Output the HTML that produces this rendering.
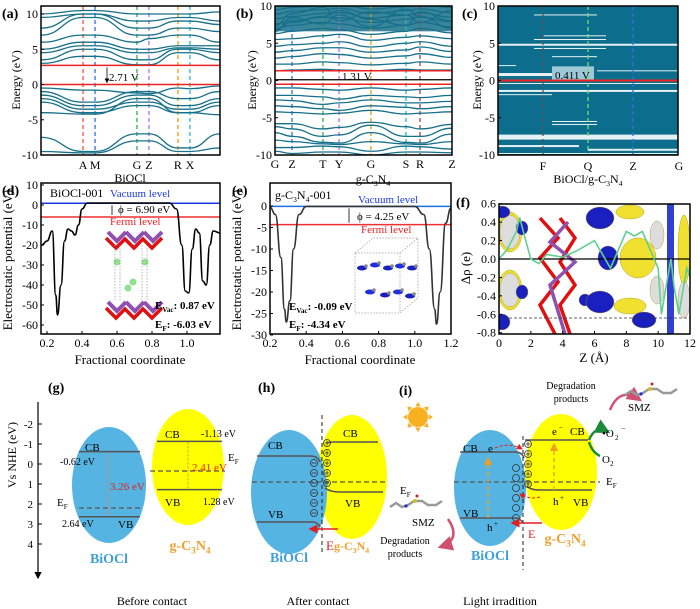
<!DOCTYPE html>
<html><head><meta charset="utf-8"><style>
body{margin:0;background:#fff}
svg{display:block;font-family:"Liberation Serif",serif}
</style></head><body>
<svg id="fig" width="700" height="609" viewBox="0 0 700 609">
<defs>
<marker id="arrR" markerWidth="6" markerHeight="6" refX="5" refY="3" orient="auto"><path d="M0,0L6,3L0,6z" fill="#e02020"/></marker>
<marker id="arrO" markerWidth="6" markerHeight="6" refX="5" refY="3" orient="auto"><path d="M0,0L6,3L0,6z" fill="#f0a020"/></marker>
<marker id="arrK" markerWidth="6" markerHeight="6" refX="5" refY="3" orient="auto"><path d="M0,0L6,3L0,6z" fill="#000"/></marker>
<marker id="arrG" markerWidth="6" markerHeight="6" refX="5" refY="3" orient="auto"><path d="M0,0L6,3L0,6z" fill="#1a8a3a"/></marker>
<marker id="arrP" markerWidth="6" markerHeight="6" refX="5" refY="3" orient="auto"><path d="M0,0L6,3L0,6z" fill="#d05070"/></marker>
<clipPath id="clipA"><rect x="41" y="6" width="179" height="149"/></clipPath>
<clipPath id="clipB"><rect x="275" y="6" width="177" height="149"/></clipPath>
<clipPath id="clipD"><rect x="41" y="183" width="179" height="151"/></clipPath>
<clipPath id="clipE"><rect x="270" y="183" width="181" height="151"/></clipPath>
<clipPath id="clipF"><rect x="499" y="204" width="191" height="130"/></clipPath>
</defs>
<g id="root"></g>
</svg>
<script>
// ---------- DATA ----------
const bandKA = [0, 0.235, 0.302, 0.536, 0.603, 0.765, 0.832, 1];
const bandLabelsA = ["A","M","G","Z","R","X"];
const bandsA = [
 [-0.5,-0.8,-0.8,-1.2,-1.3,-0.5,-0.6,-0.2],[-1,-2.5,-2.5,-1,-1,-2,-2,-1],[-1.5,-3,-3,-1.5,-1.5,-3,-3,-2],
 [-2,-3.5,-3.5,-2.5,-2.5,-3.5,-3.5,-2.5],[-2.5,-4,-4,-3,-3,-4,-4,-3],[-4,-4.2,-4.2,-2,-2,-4,-4,-4.3],
 [-7.5,-9.5,-9.5,-7,-7,-9,-9,-7],[-9.5,-9.7,-9.7,-8,-8,-9.5,-9.5,-9],
 [3,4,4,2.8,2.8,4.5,4.5,3.5],[3.5,5,5,3.5,3.5,5,5,4.5],[4.5,5.5,5.5,4.5,4.5,5.2,5.2,5],[5,6,6,5,5,5.5,5.5,5.5],
 [6,7,7,6,6.5,7,7,6],[7,9.5,9.5,7,7,8,8,7.5],[8,10,10,8,8,9,9,8.5],[9.5,10,10,9,9,9.5,9.5,9],[10,10.5,10.5,10,10,10,10,10.3]
];
const gapA = [0, 2.71];
const bandKB = [0, 0.096, 0.271, 0.362, 0.542, 0.74, 0.819, 1];
const bandLabelsB = ["G","Z","T","Y","G","S","R","Z"];
const bandsB = [
 [-1,-1,-1.2,-1.3,-1,-1.3,-1.2,-1],[-2,-2,-2.2,-2.5,-2,-2.2,-2.3,-2],[-2.6,-2.7,-3.2,-3,-2.6,-3,-3,-2.8],
 [-3.4,-3.5,-3.8,-4,-3.4,-3.6,-3.8,-3.5],[-4.2,-4.3,-4.5,-4.4,-4,-4.5,-4.4,-4.2],[-5.8,-5.8,-6.5,-6.3,-5.6,-6.2,-6.5,-5.9],
 [-6.2,-6.5,-7.5,-7.3,-6,-7.5,-7.5,-6.4],[-7,-7.5,-8.3,-8.4,-7,-8.3,-8.4,-7.2],[-8,-8.2,-8.5,-8.6,-8.2,-8.5,-8.6,-8.2],
 [-9,-9,-8.8,-8.9,-9.5,-8.8,-8.9,-9.2],[-9.5,-9.8,-9.6,-9.6,-10,-9.6,-9.6,-9.7],
 [1.3,1.4,1.5,1.4,1.3,1.5,1.4,1.4],[2.2,2.2,2.5,2.4,2.1,2.3,2.5,2.2],[3,3.2,3.6,3.5,3,3.3,3.6,3.1],
 [3.8,4,4.4,4.4,3.8,4.1,4.5,3.9],[4.6,4.8,5,5.2,4.5,5,5.2,4.6],[5.5,5.6,6,6.2,5.4,5.8,6,5.6],
 [6.3,6.6,7,6.8,6.2,6.6,7,6.4],[7,7.4,7.8,7.6,7,7.4,7.8,7.2],[7.6,8,8.5,8.4,7.8,8.2,8.5,7.9],
 [8.3,8.6,9,9.1,8.4,8.8,9.1,8.5],[8.9,9.3,9.5,9.7,9,9.4,9.6,9.1],[9.5,9.8,10,10.2,9.6,9.9,10.2,9.8],
 [6.8,7.8,8.6,9.4,8.2,7.4,9.2,8],[7.4,9,9.8,8,9.2,8.8,7.8,9.4],[6.6,8.4,7.6,8.8,7.2,9.6,8.6,7]
];
const gapB = [-0.5, 1.31];
const gapsC = [[8.8,1,0.2,0.55],[6,1,0.25,0.6],[5.5,1,0.2,0.6],[4.8,2,0,1],[4.3,1,0.2,0.6],[3.2,1,0.3,0.55],
 [2.0,1,0,0.1],[1.3,1,0.55,1],[0.8,3,0,0.5],[-0.4,1,0,1],[-1.4,2,0,1],[-1.9,1,0,0.3],[-5.5,1,0.3,0.55],[-5.9,1,0.3,0.55],
 [-7.6,5,0,1],[-8.8,2,0,0.45],[-9.3,2,0.5,1],[-9.8,1,0,1]];
const potDX = [0.17,0.2,0.23,0.25,0.26,0.28,0.3,0.32,0.34,0.36,0.38,0.4,0.43,0.5,0.9,0.94,0.97,0.99,1.01,1.03,1.05,1.07,1.09,1.11,1.13,1.15,1.19];
const potDY = [-20,-18,-13,-45,-55,-40,-18,-12,-13,-15,-10,-2,1,1,1,-2,-20,-43,-44,-22,-12,-14,-38,-40,-20,-13,-14];
const potDLevels = [0.87, -6.03];
const potEX = [0.2,0.23,0.26,0.28,0.29,0.31,0.33,0.36,0.4,1.0,1.05,1.08,1.11,1.12,1.14,1.17,1.2];
const potEY = [-0.3,-2,-12,-24,-27,-22,-10,-2,-0.1,-0.1,-2,-10,-24,-27.5,-20,-4,-0.5];
const potELevels = [-0.09, -4.34];
const cdZ = [0,0.5,1.1,1.3,1.6,2,2.5,3,4,5,6,6.5,7,7.5,8,8.5,9,9.5,10,10.2,10.5,10.8,11,11.3,11.5,11.8,12];
const cdRho = [0,0.1,0.3,0.45,0.25,0,-0.05,0.05,0.02,0.1,0.2,0.05,-0.1,0.1,0.3,0.25,0.3,0.1,-0.1,-0.6,-0.3,0,-0.3,-0.6,-0.4,-0.1,-0.2];
const nheTicks = [-2,-1,0,1,2,3,4];
const levelsBiOCl = [-0.62, 2.64, 2.2];
const levelsCN = [-1.13, 1.28, 0.35];

// ---------- HELPERS ----------
const NS="http://www.w3.org/2000/svg";
const root=document.getElementById('root');
function el(tag,attrs,parent,txt){const e=document.createElementNS(NS,tag);for(const k in attrs)e.setAttribute(k,attrs[k]);if(txt!==undefined)e.textContent=txt;(parent||root).appendChild(e);return e;}
function T(x,y,s,size,opt){opt=opt||{};const e=el('text',{x:x,y:y,'font-size':size,fill:opt.fill||'#000','text-anchor':opt.anchor||'start','font-weight':opt.bold?'bold':'normal'},opt.parent,s);if(opt.rot)e.setAttribute('transform','rotate(-90 '+x+' '+y+')');

return e;}
// text with subscripts: parts = [[text, isSub], ...]
function S(x,y,parts,size,opt){opt=opt||{};const e=el('text',{x:x,y:y,'font-size':size,fill:opt.fill||'#000','text-anchor':opt.anchor||'start','font-weight':opt.bold?'bold':'normal'});


let sub=false;parts.forEach(p=>{const t=el('tspan',{},e,p[0]);if(p[1]&&!sub){t.setAttribute('dy',size*0.25);t.setAttribute('font-size',size*0.65);sub=true;}else if(p[1]){t.setAttribute('font-size',size*0.65);}else if(sub){t.setAttribute('dy',-size*0.25);sub=false;}});return e;}
const GCN=[['g-C'],['3',1],['N'],['4',1]];
function smooth(pts){let d='M'+pts[0][0]+','+pts[0][1];for(let i=1;i<pts.length;i++){const p0=pts[i-1],p1=pts[i];const mx=(p0[0]+p1[0])/2;d+=' C'+mx+','+p0[1]+' '+mx+','+p1[1]+' '+p1[0]+','+p1[1];}return d;}
function lineP(pts){return 'M'+pts.map(p=>p[0].toFixed(1)+','+p[1].toFixed(1)).join(' L');}
function frame(x,y,w,h,name){const r=el('rect',{x:x,y:y,width:w,height:h,fill:'none',stroke:'#000','stroke-width':1.5});

}
function yTicks(x0,vals,sy,fmt,size){vals.forEach(v=>{const y=sy(v);el('line',{x1:x0,y1:y,x2:x0+3,y2:y,stroke:'#000'});T(x0-3,y+4,fmt(v),size||11,{anchor:'end',name:'y-tick-label'});});}

// ---------- (a) ----------
(function(){
 const x0=41,w=179,sx=k=>x0+k*w,sy=e=>84.5-7.05*e;
 const g=el('g',{'clip-path':'url(#clipA)'});
 const cols=['#ee5050','#3070e0','#30b050','#b070e0','#e0a010','#20c0c0'];
 bandLabelsA.forEach((l,i)=>{const x=sx(bandKA[i+1]);el('line',{x1:x,y1:6,x2:x,y2:155,stroke:cols[i],'stroke-width':1.3,'stroke-dasharray':'4,3'},g);T(x,169,l,12,{anchor:'middle',name:'k-point-label'});});
 bandsA.forEach(b=>{const p=el('path',{d:smooth(b.map((e,i)=>[sx(bandKA[i]),sy(e)])),fill:'none',stroke:'#16708a','stroke-width':1.3},g);});
 gapA.forEach(e=>el('line',{x1:41,x2:220,y1:sy(e),y2:sy(e),stroke:'#ee2020','stroke-width':1.5},g));
 el('line',{x1:107,x2:107,y1:sy(gapA[1])+2,y2:sy(gapA[0])-2,stroke:'#000','stroke-width':0.8,'marker-end':'url(#arrK)'});
 T(109,81,'2.71 V',11,{name:'band-gap-label'});
 frame(41,6,179,149,'plot-frame-a');
 yTicks(41,[10,5,0,-5,-10],sy,v=>v,12);
 T(20,80,'Energy (eV)',12,{rot:true,anchor:'middle',name:'y-axis-title'});
 T(130,182,'BiOCl',12,{anchor:'middle',name:'x-axis-title'});
 T(2,18,'(a)',14,{bold:true,name:'panel-label'});
})();
// ---------- (b) ----------
(function(){
 const x0=275,w=177,sx=k=>x0+k*w,sy=e=>80.5-7.45*e;
 const g=el('g',{'clip-path':'url(#clipB)'});
 el('rect',{x:275,y:6,width:177,height:sy(6.6)-6,fill:'#16708a',opacity:0.85},g);
 const cols=['#ee5050','#3070e0','#30b050','#b070e0','#e0a010','#20c0c0','#a04040','#000'];
 bandLabelsB.forEach((l,i)=>{const x=sx(bandKB[i]);if(i>0&&i<7)el('line',{x1:x,y1:6,x2:x,y2:155,stroke:cols[i],'stroke-width':1.3,'stroke-dasharray':'4,3'},g);T(x,168,l,12,{anchor:'middle',name:'k-point-label'});});
 bandsB.forEach(b=>{const p=el('path',{d:smooth(b.map((e,i)=>[sx(bandKB[i]),sy(e)])),fill:'none',stroke:'#16708a','stroke-width':1.3},g);});
 el('line',{x1:275,x2:452,y1:sy(0.1),y2:sy(0.1),stroke:'#000','stroke-width':1.3},g);
 el('line',{x1:275,x2:452,y1:sy(gapB[0]),y2:sy(gapB[0]),stroke:'#ee2020','stroke-width':1.5},g);
 el('line',{x1:275,x2:452,y1:sy(gapB[1]),y2:sy(gapB[1]),stroke:'#ee2020','stroke-width':1.5},g);
 T(342,80,'1.31 V',11,{name:'band-gap-label'});
 frame(275,6,177,149,'plot-frame-b');
 yTicks(275,[10,5,0,-5,-10],sy,v=>v,12);
 T(256,80,'Energy (eV)',12,{rot:true,anchor:'middle',name:'y-axis-title'});
 S(373,183,GCN,12,{anchor:'middle',name:'x-axis-title'});
 T(236,18,'(b)',14,{bold:true,name:'panel-label'});
})();
// ---------- (c) ----------
(function(){
 const x0=498,w=180,sy=e=>80.5-7.45*e;
 const g=el('g');
 el('rect',{x:x0,y:6,width:w,height:149,fill:'#0c6e8c'},g);
 gapsC.forEach(gp=>{const r=el('rect',{x:x0+gp[2]*w,y:sy(gp[0])-gp[1]/2,width:(gp[3]-gp[2])*w,height:gp[1],fill:'#fff',opacity:0.9},g);});
 el('rect',{x:552,y:sy(1.9),width:42,height:sy(0.1)-sy(1.9),fill:'#9cc8d8'},g);
 const ks=[[543,'F','#555'],[588,'Q','#70e070'],[633,'Z','#3070e0']];
 ks.forEach(k=>el('line',{x1:k[0],x2:k[0],y1:6,y2:155,stroke:k[2],'stroke-width':1.3,'stroke-dasharray':'4,3'},g));
 el('line',{x1:498,x2:678,y1:sy(0),y2:sy(0),stroke:'#ee2020','stroke-width':2},g);
 T(555,79,'0.411 V',11,{name:'band-gap-label'});
 frame(498,6,180,149,'plot-frame-c');
 yTicks(498,[10,5,0,-5,-10],sy,v=>v,12);
 [[543,'F'],[588,'Q'],[633,'Z'],[679,'G']].forEach(k=>T(k[0],170,k[1],12,{anchor:'middle',name:'k-point-label'}));
 T(481,80,'Energy (eV)',12,{rot:true,anchor:'middle',name:'y-axis-title'});
 S(588,183,[['BiOCl/g-C'],['3',1],['N'],['4',1]],12,{anchor:'middle',name:'x-axis-title'});
 T(462,18,'(c)',14,{bold:true,name:'panel-label'});
})();
// ---------- (d) ----------
(function(){
 const sx=f=>47+(f-0.2)*175,sy=v=>185+(10-v)*2;
 const g=el('g',{'clip-path':'url(#clipD)'});
 el('line',{x1:41,x2:220,y1:sy(potDLevels[0]),y2:sy(potDLevels[0]),stroke:'#1a3ae0','stroke-width':1.5},g);
 el('line',{x1:41,x2:220,y1:sy(potDLevels[1]),y2:sy(potDLevels[1]),stroke:'#ee3030','stroke-width':1.5},g);
 const p=el('path',{d:smooth(potDX.map((x,i)=>[sx(x),sy(potDY[i])])),fill:'none',stroke:'#000','stroke-width':1.6},g);
 
 const c=el('g',{},g);
 [232,302].forEach(y0=>{for(let i=0;i<3;i++){el('path',{d:'M'+(108+i*18)+','+y0+' l9,9 l9,-9',stroke:'#9050b0','stroke-width':4,fill:'none'},c);el('path',{d:'M'+(106+i*18)+','+(y0+6)+' l10,10 l10,-10',stroke:'#e01010','stroke-width':3.5,fill:'none'},c);}});
 [[117,262],[145,262],[133,282],[128,288]].forEach(q=>el('circle',{cx:q[0],cy:q[1],r:3.5,fill:'#90e090'},c));
 [115,120,142,147].forEach(x=>el('line',{x1:x,x2:x,y1:245,y2:300,stroke:'#888','stroke-dasharray':'1.5,1.5','stroke-width':0.6},c));
 frame(41,183,179,151,'plot-frame-d');
 yTicks(41,[10,0,-10,-20,-30,-40,-50,-60],sy,v=>v,12);
 [0.2,0.4,0.6,0.8,1.0].forEach(f=>{el('line',{x1:sx(f),x2:sx(f),y1:334,y2:331,stroke:'#000'});T(sx(f),347,f.toFixed(1),12,{anchor:'middle',name:'x-tick-label'});});
 T(130,364,'Fractional coordinate',13,{anchor:'middle',name:'x-axis-title'});
 T(12,260,'Electrostatic potential (eV)',13,{rot:true,anchor:'middle',name:'y-axis-title'});
 T(50,197,'BiOCl-001',12,{name:'surface-label'});T(110,197,'Vacuum level',11,{fill:'#1a3ae0',name:'vacuum-level-label'});
 T(110,225,'Fermi level',11,{fill:'#ee2020',name:'fermi-level-label'});
 el('line',{x1:112,x2:112,y1:sy(potDLevels[0])+2,y2:sy(potDLevels[1])-2,stroke:'#000','stroke-width':0.8});
 T(118,213,'\u03d5 = 6.90 eV',11,{name:'work-function-label'});
 S(155,309,[['E'],['Vac',1],[': 0.87 eV']],11,{bold:true,name:'evac-label'});
 S(155,328,[['E'],['F',1],[': -6.03 eV']],11,{bold:true,name:'ef-label'});
 T(2,195,'(d)',14,{bold:true,name:'panel-label'});
})();
// ---------- (e) ----------
(function(){
 const sx=f=>270+(f-0.2)*181,sy=v=>206-v*4.3;
 const g=el('g',{'clip-path':'url(#clipE)'});
 el('line',{x1:270,x2:451,y1:sy(potELevels[0]),y2:sy(potELevels[0]),stroke:'#1a70e0','stroke-width':1.5},g);
 el('line',{x1:270,x2:451,y1:sy(potELevels[1]),y2:sy(potELevels[1]),stroke:'#ee3030','stroke-width':1.5},g);
 const p=el('path',{d:smooth(potEX.map((x,i)=>[sx(x),sy(potEY[i])])),fill:'none',stroke:'#333','stroke-width':1.6},g);
 
 const c=el('g',{},g);
 el('path',{d:'M355,253 L400,253 L418,238 L418,298 L400,313 L355,313 Z M355,253 L373,238 L418,238 M400,253 L400,313',fill:'none',stroke:'#999','stroke-dasharray':'1.5,1.5','stroke-width':0.7},c);
 [[362,268],[375,265],[388,268],[400,266],[412,268],[370,292],[385,295],[398,292],[410,296]].forEach((q,i)=>{el('ellipse',{cx:q[0],cy:q[1],rx:5,ry:2.5,fill:i%2?'#2030e0':'#1a20c0'},c);el('circle',{cx:q[0]+4,cy:q[1]-2,r:1.8,fill:'#888'},c);});
 frame(270,183,181,151,'plot-frame-e');
 yTicks(270,[0,-5,-10,-15,-20,-25,-30],sy,v=>v,12);
 [0.2,0.4,0.6,0.8,1.0,1.2].forEach(f=>{el('line',{x1:sx(f),x2:sx(f),y1:334,y2:331,stroke:'#000'});T(sx(f),347,f.toFixed(1),12,{anchor:'middle',name:'x-tick-label'});});
 T(360,364,'Fractional coordinate',13,{anchor:'middle',name:'x-axis-title'});
 T(241,260,'Electrostatic potential (eV)',13,{rot:true,anchor:'middle',name:'y-axis-title'});
 S(275,199,[['g-C'],['3',1],['N'],['4',1],['-001']],12,{name:'surface-label'});
 T(358,203,'Vacuum level',11,{fill:'#1a3ae0',name:'vacuum-level-label'});
 T(361,233,'Fermi level',11,{fill:'#ee2020',name:'fermi-level-label'});
 el('line',{x1:349,x2:349,y1:sy(potELevels[0])+2,y2:sy(potELevels[1])-2,stroke:'#000','stroke-width':0.8});
 T(357,220,'\u03d5 = 4.25 eV',11,{name:'work-function-label'});
 S(289,310,[['E'],['Vac',1],[': -0.09 eV']],11,{bold:true,name:'evac-label'});
 S(289,328,[['E'],['F',1],[': -4.34 eV']],11,{bold:true,name:'ef-label'});
 T(232,195,'(e)',14,{bold:true,name:'panel-label'});
})();
// ---------- (f) ----------
(function(){
 const sx=z=>499+z*(191/12),sy=r=>259-r*(129/1.4);
 const g=el('g',{'clip-path':'url(#clipF)'});
 const blobs=[[510,232,12,20,'#f0e030'],[510,232,10,17,'#ddd'],[510,290,12,20,'#f0e030'],[510,290,10,17,'#ddd'],[522,228,6,7,'#1a20c0'],[522,292,6,7,'#1a20c0'],
  [502,212,8,6,'#1a20c0'],[502,322,8,8,'#1a20c0'],[585,300,6,6,'#1a20c0'],
  [600,218,14,11,'#1a20c0'],[600,302,14,11,'#1a20c0'],[638,258,18,20,'#f0e030'],[608,258,10,12,'#1a20c0'],[630,306,16,8,'#f0e030'],[630,212,14,7,'#f0e030'],[644,320,12,8,'#1a20c0'],
  [657,235,7,14,'#ddd'],[657,290,7,14,'#ddd'],[684,250,6,35,'#f0e030'],[684,300,6,18,'#ddd']];
 blobs.forEach(b=>el('ellipse',{cx:b[0],cy:b[1],rx:b[2],ry:b[3],fill:b[4],stroke:'#a09010','stroke-width':0.4},g));
 el('path',{d:'M540,218 L558,238 L540,258 L558,282 L540,305 L555,334 M560,218 L575,238 L560,262 L575,285 L560,305 L570,334',stroke:'#e01010','stroke-width':3.5,fill:'none'},g);
 el('path',{d:'M568,222 L550,242 L575,262 L550,285 L565,334',stroke:'#9050b0','stroke-width':3.5,fill:'none'},g);
 el('rect',{x:667,y:204,width:7,height:130,fill:'#3040d0'},g);
 el('line',{x1:499,x2:690,y1:sy(0),y2:sy(0),stroke:'#000','stroke-width':1.2},g);
 el('line',{x1:499,x2:690,y1:sy(-0.64),y2:sy(-0.64),stroke:'#333','stroke-dasharray':'3,2','stroke-width':0.8},g);
 const p=el('path',{d:lineP(cdZ.map((z,i)=>[sx(z),sy(cdRho[i])])),fill:'none',stroke:'#60d090','stroke-width':1.6},g);
 
 frame(499,204,191,130,'plot-frame-f');
 yTicks(499,[0.6,0.4,0.2,0,-0.2,-0.4,-0.6,-0.8],sy,v=>v.toFixed(1),12);
 [0,2,4,6,8,10,12].forEach(z=>{el('line',{x1:sx(z),x2:sx(z),y1:334,y2:331,stroke:'#000'});T(sx(z),347,z,12,{anchor:'middle',name:'x-tick-label'});});
 T(594,362,'Z (\u00c5)',13,{anchor:'middle',name:'x-axis-title'});
 T(470,268,'\u0394\u03c1 (e)',13,{rot:true,anchor:'middle',name:'y-axis-title'});
 T(456,207,'(f)',14,{bold:true,name:'panel-label'});
})();
// ---------- bottom schematic ----------
(function(){
 const ny=v=>464+v*20;
 el('line',{x1:38,x2:38,y1:402,y2:578,stroke:'#000','stroke-width':1.2,'marker-end':'url(#arrK)'});
 nheTicks.forEach(v=>{el('line',{x1:38,x2:42,y1:ny(v),y2:ny(v),stroke:'#000'});T(33,ny(v)+4,v,11,{anchor:'end',name:'nhe-tick-label'});});
 T(16,455,'Vs NHE (eV)',12,{rot:true,anchor:'middle',name:'nhe-axis-title'});
 const blue='#56b4e2',yel='#ffff00',gry='#555',org='#f0a030';
 function ell(cx,cy,rx,ry,f,n){const e=el('ellipse',{cx:cx,cy:cy,rx:rx,ry:ry,fill:f});}
 // (g)
 ell(109,485,37,58,blue,'biocl-ellipse');ell(188,467,36,58,yel,'gcn-ellipse');
 [[79,140,levelsBiOCl[0]],[79,140,levelsBiOCl[1]]].forEach(l=>el('line',{x1:l[0],x2:l[1],y1:ny(l[2]),y2:ny(l[2]),stroke:gry,'stroke-width':1.5}));
 el('line',{x1:79,x2:140,y1:ny(levelsBiOCl[2]),y2:ny(levelsBiOCl[2]),stroke:gry,'stroke-width':1.3,'stroke-dasharray':'5,3'});
 el('line',{x1:157,x2:222,y1:ny(levelsCN[0]),y2:ny(levelsCN[0]),stroke:gry,'stroke-width':1.5});
 el('line',{x1:157,x2:222,y1:ny(levelsCN[1]),y2:ny(levelsCN[1]),stroke:gry,'stroke-width':1.5});
 el('line',{x1:150,x2:225,y1:ny(levelsCN[2]),y2:ny(levelsCN[2]),stroke:gry,'stroke-width':1.3,'stroke-dasharray':'5,3'});
 el('line',{x1:108,x2:108,y1:ny(levelsBiOCl[0])+1,y2:ny(levelsBiOCl[1])-1,stroke:'#f08040','stroke-dasharray':'2,2'});
 el('line',{x1:188,x2:188,y1:ny(levelsCN[0])+1,y2:ny(levelsCN[1])-1,stroke:'#f08040','stroke-dasharray':'2,2'});
 T(85,451,'CB',11,{name:'cb-label'});T(60,465,'-0.62 eV',10,{name:'cb-value'});T(110,490,'3.26 eV',11,{fill:'#e02020',name:'gap-value'});
 S(57,506,[['E'],['F',1]],11,{name:'ef-label'});T(62,527,'2.64 eV',10,{name:'vb-value'});T(118,528,'VB',11,{name:'vb-label'});
 T(165,438,'CB',11,{name:'cb-label'});T(201,437,'-1.13 eV',10,{name:'cb-value'});S(228,461,[['E'],['F',1]],11,{name:'ef-label'});
 T(192,471,'2.41 eV',11,{fill:'#e02020',name:'gap-value'});T(165,506,'VB',11,{name:'vb-label'});T(203,505,'1.28 eV',10,{name:'vb-value'});
 T(109,563,'BiOCl',14,{bold:true,fill:'#3ea0d8',anchor:'middle',name:'biocl-label'});
 S(190,550,GCN,14,{bold:true,fill:org,anchor:'middle',name:'gcn-label'});
 T(48,392,'(g)',14,{bold:true,name:'panel-label'});
 T(152,605,'Before contact',12,{anchor:'middle',name:'caption-before'});
 // (h)
 ell(352,477,35,62,yel,'gcn-ellipse');ell(289,492,38,62,blue,'biocl-ellipse');
 el('path',{d:'M257,456 L310,456 Q318,456 320,462',stroke:gry,fill:'none','stroke-width':1.5});
 el('path',{d:'M257,522 L312,522 Q318,522 320,527',stroke:gry,fill:'none','stroke-width':1.5});
 el('path',{d:'M327,443 Q327,442 335,442 L378,442',stroke:gry,fill:'none','stroke-width':1.5});
 el('path',{d:'M325,488 Q330,492 340,492 L383,492',stroke:gry,fill:'none','stroke-width':1.5});
 el('line',{x1:252,x2:387,y1:482,y2:482,stroke:gry,'stroke-dasharray':'5,3','stroke-width':1.3});
 el('line',{x1:322,x2:322,y1:415,y2:552,stroke:'#222','stroke-dasharray':'4,3'});
 for(let i=0;i<6;i++){el('circle',{cx:314,cy:463+i*10,r:3.5,fill:'none',stroke:'#333','stroke-width':0.8});el('line',{x1:311.5,x2:316.5,y1:463+i*10,y2:463+i*10,stroke:'#333','stroke-width':0.8});}
 for(let i=0;i<5;i++){const y=443+i*10;el('circle',{cx:327,cy:y,r:3.5,fill:'none',stroke:'#333','stroke-width':0.8});el('path',{d:'M324.5,'+y+' h5 M327,'+(y-2.5)+' v5',stroke:'#333','stroke-width':0.8});}
 el('line',{x1:338,x2:310,y1:529,y2:529,stroke:'#e02020','stroke-width':1.5,'marker-end':'url(#arrR)'});
 T(268,449,'CB',11,{name:'cb-label'});T(268,518,'VB',11,{name:'vb-label'});T(343,437,'CB',11,{name:'cb-label'});T(345,507,'VB',11,{name:'vb-label'});
 T(326,550,'E',13,{fill:'#e02020',name:'field-label'});S(334,550,GCN,12,{bold:true,fill:org,name:'gcn-label'});
 T(289,562,'BiOCl',14,{bold:true,fill:'#3ea0d8',anchor:'middle',name:'biocl-label'});
 T(258,392,'(h)',14,{bold:true,name:'panel-label'});
 T(318,605,'After contact',12,{anchor:'middle',name:'caption-after'});
 // (i)
 ell(490,488,36,58,blue,'biocl-ellipse');ell(561,472,36,58,yel,'gcn-ellipse');
 el('path',{d:'M460,452 L515,452 Q522,452 524,458',stroke:gry,fill:'none','stroke-width':1.5});
 el('path',{d:'M460,518 L515,518 Q520,518 522,522',stroke:gry,fill:'none','stroke-width':1.5});
 el('path',{d:'M525,440 L588,440',stroke:gry,fill:'none','stroke-width':1.5});
 el('path',{d:'M527,486 Q530,490 540,490 L592,490',stroke:gry,fill:'none','stroke-width':1.5});
 el('line',{x1:454,x2:600,y1:482,y2:482,stroke:gry,'stroke-dasharray':'5,3','stroke-width':1.3});
 el('line',{x1:523,x2:523,y1:436,y2:570,stroke:'#222','stroke-dasharray':'4,3'});
 for(let i=0;i<6;i++){el('circle',{cx:516,cy:468+i*10,r:3.5,fill:'none',stroke:'#333','stroke-width':0.8});}
 for(let i=0;i<5;i++){const y=444+i*10;el('circle',{cx:528,cy:y,r:3.5,fill:'none',stroke:'#333','stroke-width':0.8});el('path',{d:'M525.5,'+y+' h5 M528,'+(y-2.5)+' v5',stroke:'#333','stroke-width':0.8});}
 el('line',{x1:488,x2:488,y1:518,y2:458,stroke:'#f0a020','stroke-dasharray':'4,3','stroke-width':1.4,'marker-end':'url(#arrO)'});
 el('line',{x1:554,x2:554,y1:490,y2:444,stroke:'#f0a020','stroke-dasharray':'4,3','stroke-width':1.4,'marker-end':'url(#arrO)'});
 el('path',{d:'M495,448 Q510,442 522,449',stroke:'#e02020','stroke-dasharray':'3,2',fill:'none','marker-end':'url(#arrR)'});
 el('path',{d:'M540,497 Q530,500 520,494',stroke:'#e02020','stroke-dasharray':'3,2',fill:'none','marker-end':'url(#arrR)'});
 el('line',{x1:542,x2:512,y1:523,y2:523,stroke:'#e02020','stroke-width':1.5,'marker-end':'url(#arrR)'});
 el('path',{d:'M589,440 Q595,425 608,432',stroke:'#1a8a3a','stroke-width':2.5,fill:'none','marker-end':'url(#arrG)'});
 el('path',{d:'M589,442 Q592,452 600,456',stroke:'#1a8a3a','stroke-width':2.5,fill:'none'});
 el('path',{d:'M610,410 Q620,386 640,400',stroke:'#d05070','stroke-width':2.5,fill:'none','marker-end':'url(#arrP)'});
 el('path',{d:'M448,519 Q462,540 440,547',stroke:'#d05070','stroke-width':2.5,fill:'none','marker-end':'url(#arrP)'});
 const s=el('g');
 for(let a=0;a<8;a++){const r=a*Math.PI/4;el('path',{d:'M'+(418+Math.cos(r)*15)+','+(417+Math.sin(r)*15)+' L'+(418+Math.cos(r+0.25)*11)+','+(417+Math.sin(r+0.25)*11)+' L'+(418+Math.cos(r-0.25)*11)+','+(417+Math.sin(r-0.25)*11)+'z',fill:'#f8b020'},s);}
 el('circle',{cx:418,cy:417,r:10,fill:'#f8b020'},s);
 [[405,507],[640,395]].forEach(m=>{const g=el('g');
  el('path',{d:'M'+(m[0]-15)+','+(m[1])+' l6,-4 l6,4 l6,-2 l6,-4 l8,0 l6,4 l8,0 l6,-4',stroke:'#999','stroke-width':2.5,fill:'none'},g);
  el('circle',{cx:m[0]+10,cy:m[1]-6,r:2,fill:'#d0c020'},g);el('circle',{cx:m[0]+1,cy:m[1]-1,r:1.6,fill:'#2030d0'},g);el('circle',{cx:m[0]+12,cy:m[1]-11,r:1.5,fill:'#d02020'},g);});
 T(463,452,'CB',11,{name:'cb-label'});T(488,452,'e',11);T(463,517,'VB',11,{name:'vb-label'});T(487,531,'h',11);T(494,526,'+',7);
 T(552,435,'e',11);T(559,430,'\u2212',7);T(570,435,'CB',11,{name:'cb-label'});T(553,505,'h',11);T(560,500,'+',7);T(573,506,'VB',11,{name:'vb-label'});
 S(606,485,[['E'],['F',1]],11,{name:'ef-label'});S(400,494,[['E'],['F',1]],11,{name:'ef-label'});
 T(602,437,'\u2022O',11,{name:'superoxide-label'});T(615,440,'2',7);T(621,431,'\u2212',8);S(602,463,[['O'],['2',1]],11,{name:'o2-label'});
 T(628,411,'SMZ',11,{name:'smz-label'});T(412,526,'SMZ',11,{name:'smz-label'});
 T(571,389,'Degradation',10,{anchor:'middle',name:'degradation-label'});T(571,402,'products',10,{anchor:'middle'});
 T(405,544,'Degradation',10,{anchor:'middle',name:'degradation-label'});T(405,557,'products',10,{anchor:'middle'});
 T(528,538,'E',12,{fill:'#e02020',name:'field-label'});
 T(490,560,'BiOCl',14,{bold:true,fill:'#3ea0d8',anchor:'middle',name:'biocl-label'});
 S(565,543,GCN,14,{bold:true,fill:org,anchor:'middle',name:'gcn-label'});
 T(399,395,'(i)',14,{bold:true,name:'panel-label'});
 T(500,605,'Light irradition',12,{anchor:'middle',name:'caption-light'});
})();
</script>
</body></html>
